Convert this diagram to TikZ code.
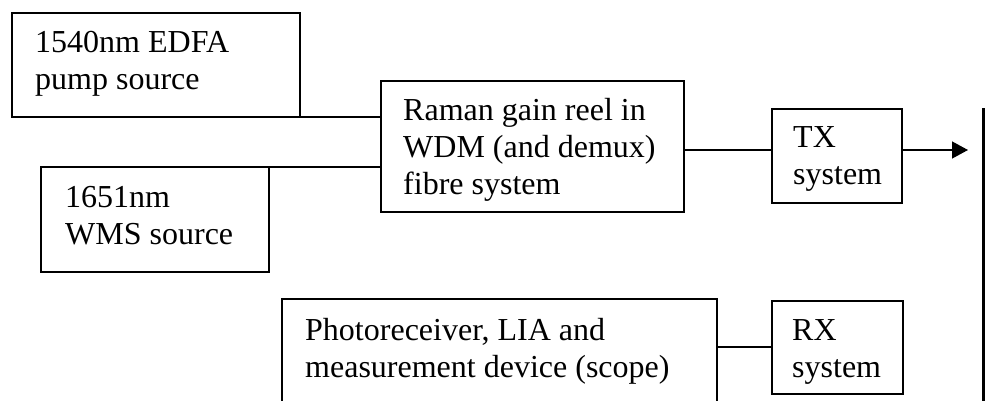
\documentclass[tikz,border=0pt]{standalone}
\usepackage{fontspec}
\setmainfont{Liberation Serif}
\usetikzlibrary{arrows.meta}

% block outlines, their text and the wires between them
\tikzset{
  box/.style={draw, line width=1.5pt, anchor=north west, inner sep=0pt, outer sep=0pt},
  boxtext/.style={anchor=base west, inner sep=0pt, font=\fontsize{32}{37}\selectfont},
  wire/.style={line width=1.3pt},
}
% left-aligned lines; the baseline is that of the first line
\newcommand\boxlines[1]{\parbox[t]{20cm}{\raggedright #1}}

\begin{document}
\begin{tikzpicture}[x=1pt,y=-1pt]
\clip (0,0) rectangle (985,401);
\useasboundingbox (0,0) rectangle (985,401);

% blocks
\node[box, minimum width=288pt, minimum height=104pt] (edfa)  at (12,13)  {};
\node[box, minimum width=228pt, minimum height=105pt] (wms)   at (41,167) {};
\node[box, minimum width=303pt, minimum height=131pt] (raman) at (381,81) {};
\node[box, minimum width=130pt, minimum height=94pt]  (tx)    at (772,109) {};
\node[box, minimum width=435pt, minimum height=130pt] (photo) at (282,299) {};
\node[box, minimum width=131pt, minimum height=93pt]  (rx)    at (772,301) {};

% block labels
\node[boxtext] (edfaT)  at (35,53)   {\boxlines{1540nm EDFA\\pump source}};
\node[boxtext] (wmsT)   at (65,207)  {\boxlines{1651nm\\WMS source}};
\node[boxtext] (ramanT) at (403,121) {\boxlines{Raman gain reel in\\WDM (and demux)\\fibre system}};
\node[boxtext] (txT)    at (793,147) {\boxlines{TX\\system}};
\node[boxtext] (photoT) at (305,340) {\boxlines{Photoreceiver, LIA and\\measurement device (scope)}};
\node[boxtext] (rxT)    at (792,340) {\boxlines{RX\\system}};

% wires
\draw[wire] (edfa.south east) -- (edfa.south east -| raman.west);
\draw[wire] (wms.north east) -- (wms.north east -| raman.west);
\coordinate (txrow) at (0,150);
\draw[wire] (raman.east |- txrow) -- (tx.west |- txrow);
\coordinate (out) at (968,150);
\draw[wire, -{Triangle[length=16pt,width=17pt]}] (tx.east |- txrow) -- (out);
\coordinate (rxrow) at (0,347);
\draw[wire] (photo.east |- rxrow) -- (rx.west |- rxrow);

% fibre link bar on the right
\coordinate (busTop) at (984,108);
\coordinate (busBot) at (984,410);
\draw[line width=4.5pt] (busTop) -- (busBot);
\end{tikzpicture}
\end{document}
